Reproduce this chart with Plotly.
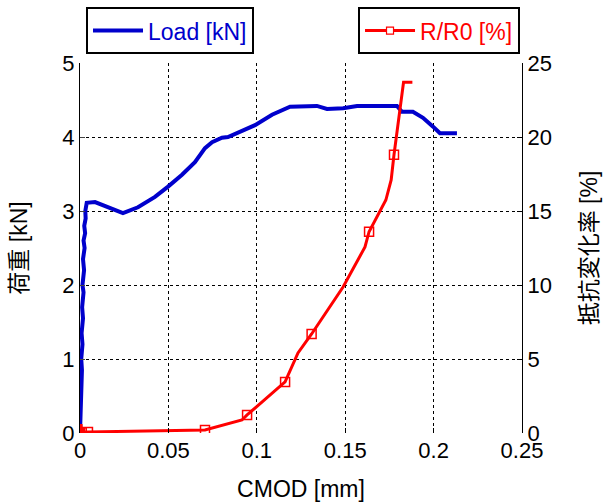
import plotly.graph_objects as go

# ---- data ----
load_cmod = [0.0000, 0.0003, 0.0008, 0.0005, 0.0011, 0.0007, 0.0014, 0.0009, 0.0017,
             0.0012, 0.0020, 0.0014, 0.0023, 0.0017, 0.0026, 0.0020, 0.0029, 0.0024,
             0.0032, 0.0030, 0.0034, 0.0038, 0.0085, 0.0243, 0.0328, 0.0424, 0.0498,
             0.0577, 0.0650, 0.0707, 0.0747, 0.0803, 0.0837, 0.0916, 0.0990, 0.1086,
             0.1188, 0.1340, 0.1397, 0.1488, 0.1567, 0.1793, 0.1821, 0.1883, 0.1940,
             0.1997, 0.2036, 0.2132]
load_kn = [0.00, 0.20, 0.45, 0.60, 0.85, 1.00, 1.20, 1.35, 1.55, 1.70, 1.90, 2.00,
           2.20, 2.35, 2.50, 2.60, 2.70, 2.80, 2.90, 3.00, 3.05, 3.11, 3.12, 2.97,
           3.05, 3.19, 3.33, 3.49, 3.66, 3.85, 3.93, 3.99, 4.00, 4.09, 4.16, 4.30,
           4.41, 4.42, 4.38, 4.39, 4.42, 4.42, 4.34, 4.34, 4.26, 4.14, 4.05, 4.05]

r_cmod = [0.0000, 0.0006, 0.0010, 0.0045, 0.0707, 0.0916, 0.0945, 0.1125, 0.1160,
          0.1233, 0.1310, 0.1488, 0.1612, 0.1635, 0.1730, 0.1760, 0.1776, 0.1830, 0.1880]
r_pct = [0.00, 0.60, 0.05, 0.07, 0.20, 0.88, 1.22, 3.11, 3.45, 5.41, 6.69, 9.86,
         12.57, 13.60, 15.74, 17.10, 18.80, 23.70, 23.70]

r_meas_cmod = [0.0000, 0.0010, 0.0045, 0.0707, 0.0945, 0.1160, 0.1310, 0.1635, 0.1776]
r_meas_pct = [0.00, 0.05, 0.07, 0.20, 1.22, 3.45, 6.69, 13.60, 18.80]

x_ticks = [0, 0.05, 0.1, 0.15, 0.2, 0.25]
x_ticktext = ["0", "0.05", "0.1", "0.15", "0.2", "0.25"]

BLUE = "#0000CC"
RED = "#FF0000"
FONT = "Liberation Sans, Arial, Noto Sans CJK JP, sans-serif"

fig = go.Figure()
fig.add_trace(go.Scatter(x=load_cmod, y=load_kn, mode="lines", name="Load [kN]",
                         line=dict(color=BLUE, width=4), legend="legend"))
fig.add_trace(go.Scatter(x=r_cmod, y=r_pct, mode="lines", yaxis="y2", showlegend=False,
                         line=dict(color=RED, width=3)))
fig.add_trace(go.Scatter(x=r_meas_cmod, y=r_meas_pct, mode="markers", yaxis="y2",
                         showlegend=False,
                         marker=dict(symbol="square-open", size=9, color=RED,
                                     line=dict(width=1.5, color=RED))))
fig.add_trace(go.Scatter(x=[None], y=[None], mode="lines+markers", name="R/R0 [%]",
                         yaxis="y2", legend="legend2",
                         line=dict(color=RED, width=3),
                         marker=dict(symbol="square", size=7, color="white",
                                     line=dict(width=1.2, color=RED))))

fig.update_layout(
    width=608, height=504,
    margin=dict(l=80, r=86, t=63, b=71, autoexpand=False),
    paper_bgcolor="white", plot_bgcolor="white",
    font=dict(family=FONT, size=22, color="black"),
    xaxis=dict(range=[0, 0.25], tickvals=x_ticks, ticktext=x_ticktext,
               showgrid=True, gridcolor="black", griddash="dot", gridwidth=1,
               zeroline=False, ticks="inside", ticklen=5, tickcolor="black",
               showline=False, tickfont=dict(size=22), ticklabelstandoff=2,
               title=dict(text="CMOD [mm]", font=dict(size=23), standoff=18)),
    yaxis=dict(range=[0, 5], dtick=1, showgrid=True, gridcolor="black",
               griddash="dot", gridwidth=1, zeroline=False, ticks="inside",
               ticklen=5, showline=True, linecolor="black", linewidth=1,
               tickfont=dict(size=22),
               title=dict(text="荷重 [kN]", font=dict(size=23), standoff=28)),
    yaxis2=dict(range=[0, 25], dtick=5, overlaying="y", side="right",
                showgrid=False, zeroline=False, ticks="inside", ticklen=5,
                tickcolor="black", showline=True, linecolor="black", linewidth=1,
                tickfont=dict(size=22),
                title=dict(text="抵抗変化率 [%]", font=dict(size=23), standoff=30)),
    legend=dict(x=0.0136, y=1.151, xanchor="left", yanchor="top",
                bordercolor="black", borderwidth=2, bgcolor="white",
                itemwidth=50, font=dict(color=BLUE, size=23)),
    legend2=dict(x=0.629, y=1.151, xanchor="left", yanchor="top",
                 bordercolor="black", borderwidth=2, bgcolor="white",
                 itemwidth=50, font=dict(color=RED, size=23)),
)

fig.write_html("out.html", config={"displayModeBar": False},
               post_script="document.body.style.margin='0';")
